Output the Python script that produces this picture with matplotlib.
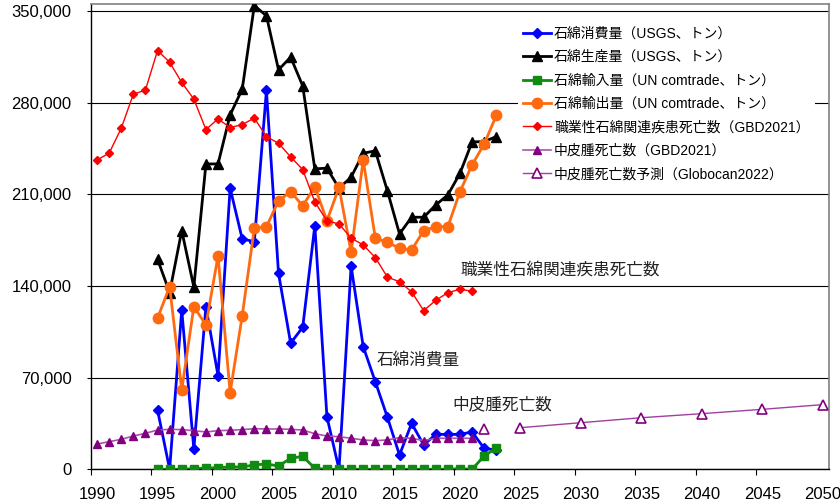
import matplotlib
matplotlib.use("Agg")
import matplotlib.pyplot as plt
from matplotlib.ticker import FuncFormatter, FixedLocator

plt.rcParams['font.family'] = ['Liberation Sans', 'Noto Sans CJK JP', 'DejaVu Sans']

# ---- data ----
years_usgs = list(range(1995, 2024))
consumption = [45300, 0, 121700, 15500, 124200, 71500, 214700, 175900, 173900, 289300,
               149700, 96300, 108500, 186100, 40200, 0, 155300, 93700, 66900, 39700,
               10900, 35100, 18600, 26700, 26700, 26700, 28500, 16000, 14700]
production = [160400, 135000, 182300, 139200, 233200, 233200, 270700, 290300, 354200, 346300,
              305100, 314800, 292800, 229400, 230000, 214700, 223100, 241400, 243200, 212600,
              179800, 192500, 192500, 201900, 209600, 226100, 250000, 250300, 254100]
imports = [0, 0, 0, 500, 800, 1300, 1800, 1800, 3300, 4100,
           2500, 8400, 9900, 800, 0, 0, 0, 0, 0, 0,
           0, 0, 0, 0, 0, 500, 0, 10200, 16300]
exports = [115400, 139500, 60600, 124200, 110200, 163000, 58500, 117400, 184100, 185300,
           205000, 212100, 201200, 215900, 189700, 215400, 165800, 236300, 176500, 173400,
           168800, 167500, 182300, 185300, 185300, 212100, 232500, 248500, 270200]
years_gbd = list(range(1990, 2022))
occ_deaths = [236300, 241400, 260500, 286500, 289600, 319800, 310900, 295400, 282700, 259500,
              267600, 261000, 263300, 268200, 254100, 249000, 238600, 228900, 204200, 189700,
              187400, 176500, 171400, 161700, 146700, 143300, 135500, 121200, 129100, 134900,
              137500, 136000]
meso_deaths = [19300, 21100, 22900, 25400, 27500, 30000, 30500, 30300, 29500, 28500,
               29500, 29800, 30300, 31000, 30800, 30800, 30500, 30000, 27200, 25400,
               24900, 23700, 22400, 21900, 22400, 24200, 23700, 21900, 23700, 23700,
               23700, 23700]
years_fc = [2022, 2025, 2030, 2035, 2040, 2045, 2050]
meso_fc = [30500, 31800, 35600, 39400, 42500, 45800, 49400]

labels = ['石綿消費量（USGS、トン）', '石綿生産量（USGS、トン）', '石綿輸入量（UN comtrade、トン）',
          '石綿輸出量（UN comtrade、トン）', '職業性石綿関連疾患死亡数（GBD2021）',
          '中皮腫死亡数（GBD2021）', '中皮腫死亡数予測（Globocan2022）']
yticks = [0, 70000, 140000, 210000, 280000, 350000]
xlabel_years = list(range(1990, 2051, 5))

# ---- figure ----
fig = plt.figure(figsize=(8.4, 5.04), dpi=100)
ax = fig.add_axes([91/840, 1-469.3/504, (829-91)/840, (469.3-4)/504])

ax.plot(years_usgs, consumption, color='#0000FF', lw=2.0, marker='D', ms=5,
        mfc='#0000FF', mec='#0000FF', label=labels[0], zorder=3)
ax.plot(years_usgs, production, color='black', lw=2.0, marker='^', ms=7.5,
        mfc='black', mec='black', label=labels[1], zorder=3)
ax.plot(years_usgs, imports, color='#108A10', lw=2.0, marker='s', ms=5.5,
        mfc='#108A10', mec='#108A10', label=labels[2], zorder=3)
ax.plot(years_usgs, exports, color='#FF6A10', lw=2.0, marker='o', ms=7.5,
        mfc='#FF6A10', mec='#FF6A10', label=labels[3], zorder=3)
ax.plot(years_gbd, occ_deaths, color='#FF0000', lw=1.0, marker='D', ms=4,
        mfc='#FF0000', mec='#FF0000', label=labels[4], zorder=3)
ax.plot(years_gbd, meso_deaths, color='#B050B0', lw=1.2, marker='^', ms=6,
        mfc='#800080', mec='#800080', label=labels[5], zorder=3)
ax.plot(years_fc[:1], meso_fc[:1], ls='none', marker='^', ms=6.5, mfc='white',
        mec='#800080', mew=1.2, zorder=3)
ax.plot(years_fc[1:], meso_fc[1:], color='#A040A0', lw=1.0, marker='^', ms=6.5,
        mfc='white', mec='#800080', mew=1.2, label=labels[6], zorder=3)

ax.set_xlim(1989.5, 2050.5)
ax.set_ylim(0, 355350)

ax.set_yticks(yticks)
ax.yaxis.set_major_formatter(FuncFormatter(lambda v, p: f"{int(v):,}"))
ax.tick_params(axis='y', direction='out', length=3, width=0.8, pad=11,
               labelsize=12, color='black')
ax.grid(axis='y', color='black', lw=0.8, zorder=1)
ax.set_axisbelow(True)

ax.xaxis.set_major_locator(FixedLocator([y - 0.5 for y in xlabel_years[:-1]]))
ax.xaxis.set_minor_locator(FixedLocator(xlabel_years))
ax.xaxis.set_major_formatter(FuncFormatter(lambda v, p: ""))
ax.xaxis.set_minor_formatter(FuncFormatter(lambda v, p: f"{int(round(v))}"))
ax.tick_params(axis='x', which='major', direction='out', length=4.5, width=0.8, color='black')
ax.tick_params(axis='x', which='minor', length=0, pad=13, labelsize=12)

for s in ['left', 'bottom']:
    ax.spines[s].set_color('black')
    ax.spines[s].set_linewidth(1.0)
for s in ['top', 'right']:
    ax.spines[s].set_color('#808080')
    ax.spines[s].set_linewidth(1.2)

cjk = ['Noto Sans CJK JP']
ax.text(2020.0, 152300, '職業性石綿関連疾患死亡数', fontsize=12, family=cjk,
        va='center', ha='left', color='#222222')
ax.text(2013.1, 83500, '石綿消費量', fontsize=12, family=cjk,
        va='center', ha='left', color='#222222')
ax.text(2019.4, 49100, '中皮腫死亡数', fontsize=12, family=cjk,
        va='center', ha='left', color='#222222')

leg = ax.legend(loc='upper left', bbox_to_anchor=(511/840, 1-14/504),
                bbox_transform=fig.transFigure, fontsize=10, frameon=True,
                facecolor='white', edgecolor='none', framealpha=1, fancybox=False,
                handlelength=1.95, handletextpad=0.25, labelspacing=0.68,
                borderpad=0.4, numpoints=1)
leg.set_zorder(5)

fig.savefig('out.png', dpi=100)
